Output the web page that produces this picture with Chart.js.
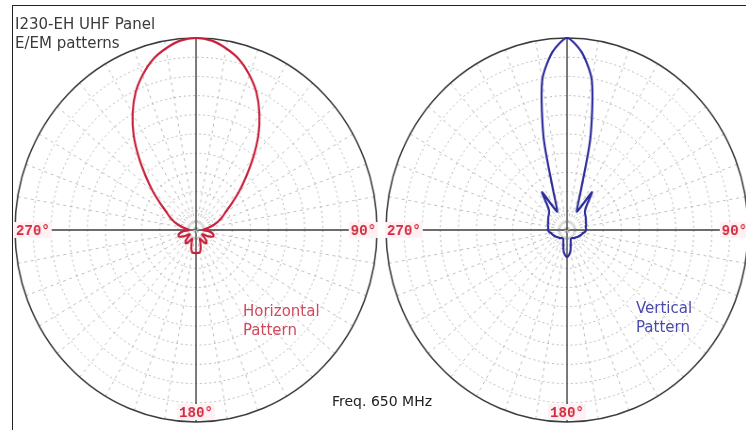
<!DOCTYPE html>
<html>
<head>
<meta charset="utf-8">
<script src="https://cdn.jsdelivr.net/npm/chart.js@4.4.1/dist/chart.umd.min.js"></script>
<style>
    html, body { margin: 0; padding: 0; background: #fff; }
    body { width: 746px; height: 430px; position: relative; overflow: hidden; font-family: "DejaVu Sans", sans-serif; }
    .frame { position: absolute; left: 12px; top: 5px; width: 800px; height: 500px; border-left: 1px solid #222; border-top: 1px solid #222; }
    .title { position: absolute; left: 15px; top: 15px; font-size: 15px; line-height: 19px; color: #3a3a3a; z-index: 3; }
    .polar { position: absolute; top: 36px; width: 388px; height: 388px; transform: scaleX(0.943); transform-origin: 50% 50%; }
    .note { position: absolute; font-size: 15px; line-height: 19px; z-index: 3; }
</style>
</head>
<body>
<div class="frame"></div>
<div class="title">I230-EH UHF Panel<br>E/EM patterns</div>
<div class="polar" style="left:2px"><canvas id="horizontal-chart"></canvas></div>
<div class="polar" style="left:373px"><canvas id="vertical-chart"></canvas></div>
<div class="note" style="left:243px; top:302px; color:#d2485e">Horizontal<br>Pattern</div>
<div class="note" style="left:636px; top:299px; color:#4a4aa8">Vertical<br>Pattern</div>
<div class="note" style="left:332px; top:392px; font-size:14px; color:#222">Freq. 650 MHz</div>

<script>
// 각도 0° = 위쪽, 시계방향 5° 간격
const angles = Array.from({ length: 72 }, (_, i) => i * 5);

// 수평 패턴 (빨강) - 상대 전계 세기 0..1
const horizontalPattern = [
    1.00, 0.99, 0.96, 0.92, 0.86, 0.79, 0.70, 0.60, 0.49, 0.39, 0.31, 0.24,
    0.19, 0.16, 0.13, 0.10, 0.07, 0.05, 0.04, 0.07, 0.09, 0.10, 0.10, 0.08,
    0.05, 0.04, 0.06, 0.08, 0.09, 0.08, 0.06, 0.05, 0.07, 0.10, 0.12, 0.12,
    0.12, 0.12, 0.12, 0.10, 0.07, 0.05, 0.06, 0.08, 0.09, 0.08, 0.06, 0.04,
    0.05, 0.08, 0.10, 0.10, 0.09, 0.07, 0.04, 0.05, 0.07, 0.10, 0.13, 0.16,
    0.19, 0.24, 0.31, 0.39, 0.49, 0.60, 0.70, 0.79, 0.86, 0.92, 0.96, 0.99
];

// 수직 패턴 (파랑)
const verticalPattern = [
    1.00, 0.93, 0.79, 0.50, 0.23, 0.14, 0.11, 0.24, 0.17, 0.14, 0.13, 0.125,
    0.12, 0.115, 0.11, 0.11, 0.105, 0.105, 0.105, 0.10, 0.09, 0.085, 0.08, 0.075,
    0.07, 0.065, 0.06, 0.06, 0.055, 0.05, 0.05, 0.05, 0.06, 0.08, 0.11, 0.13,
    0.14, 0.13, 0.11, 0.08, 0.06, 0.05, 0.05, 0.05, 0.055, 0.06, 0.06, 0.065,
    0.07, 0.075, 0.08, 0.085, 0.09, 0.10, 0.105, 0.105, 0.105, 0.11, 0.11, 0.115,
    0.12, 0.125, 0.13, 0.14, 0.17, 0.24, 0.11, 0.14, 0.23, 0.50, 0.79, 0.93
];

const ringTicks = { min: 0, max: 1, step: 0.1 };

const angleMarks = [
    { index: 54, text: '270°', align: 'left' },
    { index: 18, text: '90°', align: 'right' },
    { index: 36, text: '180°', align: 'bottom' }
];

const rimPlugin = {
    id: 'rim',
    beforeDatasetsDraw(chart) {
        const r = chart.scales.r;
        const ctx = chart.ctx;
        ctx.save();
        ctx.strokeStyle = '#3a3a3a';
        ctx.lineWidth = 1.6;
        ctx.beginPath();
        ctx.arc(r.xCenter, r.yCenter, r.drawingArea, 0, Math.PI * 2);
        ctx.stroke();
        ctx.restore();
    },
    afterDraw(chart) {
        const r = chart.scales.r;
        const ctx = chart.ctx;
        ctx.save();
        ctx.font = 'bold 15px "Liberation Mono", monospace';
        ctx.textBaseline = 'middle';
        angleMarks.forEach(m => {
            const p = r.getPointPositionForValue(m.index, r.max);
            const w = ctx.measureText(m.text).width;
            let left, cy;
            if (m.align === 'left') { left = p.x + 1; cy = p.y; }
            else if (m.align === 'right') { left = p.x - 1 - w; cy = p.y; }
            else { left = p.x - w / 2; cy = p.y - 10; }
            ctx.fillStyle = '#fff1f3';
            ctx.fillRect(left - 2, cy - 8, w + 4, 16);
            ctx.fillStyle = '#d12a3e';
            ctx.fillText(m.text, left, cy + 1);
        });
        ctx.restore();
    }
};

function makePolar(canvasId, values, color, tension) {
    return new Chart(document.getElementById(canvasId), {
        type: 'radar',
        data: {
            labels: angles,
            datasets: [{
                data: values,
                borderColor: color,
                borderWidth: 2.2,
                pointRadius: 0,
                fill: false,
                tension
            }]
        },
        options: {
            responsive: true,
            maintainAspectRatio: false,
            animation: false,
            layout: { padding: 2 },
            plugins: { legend: { display: false }, tooltip: { enabled: false } },
            scales: {
                r: {
                    min: ringTicks.min,
                    max: ringTicks.max,
                    startAngle: 0,
                    ticks: { display: false, stepSize: ringTicks.step },
                    pointLabels: { display: false },
                    grid: {
                        circular: true,
                        color: c => c.index === 10 ? 'transparent' : '#b8b8b8',
                        lineWidth: 1
                    },
                    border: { dash: [2, 3] },
                    angleLines: {
                        color: c => c.index % 18 === 0 ? '#3c3c3c' : (c.index % 2 === 0 ? '#bdbdbd' : 'transparent'),
                        lineWidth: c => c.index % 18 === 0 ? 1.4 : (c.index % 2 === 0 ? 1 : 0),
                        borderDash: c => c.index % 18 === 0 ? [] : [3, 4]
                    }
                }
            }
        },
        plugins: [rimPlugin]
    });
}

makePolar('horizontal-chart', horizontalPattern, '#c8203a', 0.3);
makePolar('vertical-chart', verticalPattern, '#2c2c9c', 0.25);
</script>
</body>
</html>
